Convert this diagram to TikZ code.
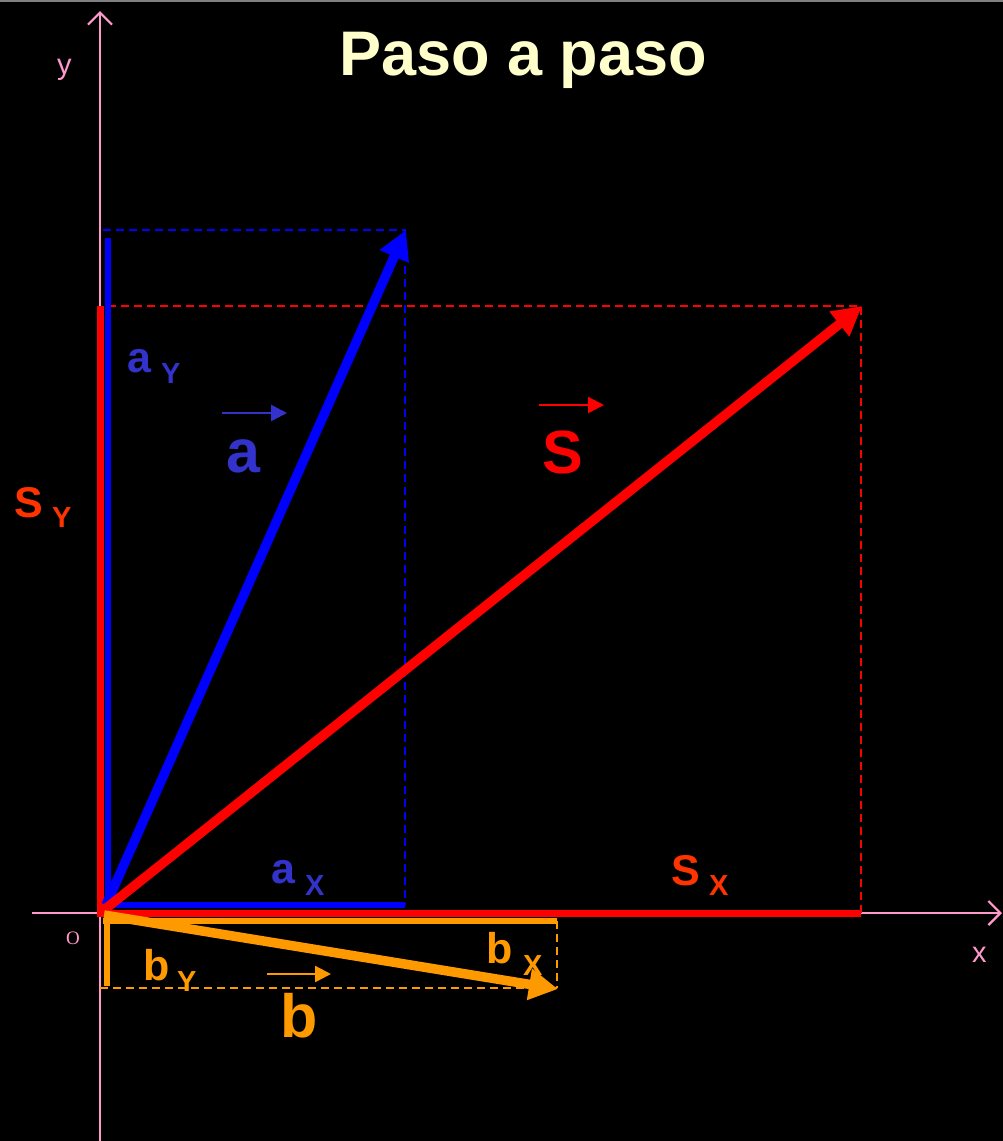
\documentclass[tikz,border=0pt]{standalone}
\usepackage{fontspec}
\setmainfont{Liberation Sans}
\newfontfamily\serifo{Liberation Serif}
\usetikzlibrary{arrows.meta}
\definecolor{pinkax}{RGB}{255,153,204}
\definecolor{ablue}{RGB}{51,51,204}
\definecolor{vblue}{RGB}{0,0,255}
\definecolor{vred}{RGB}{255,0,0}
\definecolor{sred}{RGB}{255,51,0}
\definecolor{borange}{RGB}{255,153,0}
\definecolor{titley}{RGB}{255,255,204}
\begin{document}
\begin{tikzpicture}[x=1pt,y=-1pt,
  axis/.style={pinkax, line width=2.2pt, -{Straight Barb[length=12pt,width=24pt,line width=2.2pt]}},
  comp/.style={line width=6.5pt},
  guide/.style={line width=1.5pt, dash pattern=on 8pt off 5pt},
  vec/.style={line width=9.5pt, -{Triangle[length=29pt,width=30pt]}},
  vmark/.style={line width=2.4pt, -{Triangle[length=16pt,width=16pt]}},
  lbl/.style={inner sep=0pt, anchor=base west, font=\bfseries\fontsize{43}{48}\selectfont},
  sub/.style={inner sep=0pt, anchor=base west, font=\bfseries\fontsize{29}{32}\selectfont},
  big/.style={inner sep=0pt, anchor=base west, font=\bfseries\fontsize{61}{66}\selectfont},
  axl/.style={inner sep=0pt, anchor=base west, text=pinkax, font=\fontsize{29}{32}\selectfont}]
\fill[black] (0,0) rectangle (1003,1141);
\useasboundingbox (0,0) rectangle (1003,1141);
\draw[gray, line width=1.5pt] (0,0.75) -- (1003,0.75);
% title
\node[inner sep=0pt, anchor=base, text=titley, font=\bfseries\fontsize{63}{70}\selectfont] (title) at (523,75) {Paso a paso};
% axes
\coordinate (ybot) at (100,1141);
\coordinate (ytop) at (100,11);
\coordinate (xl) at (32,913);
\coordinate (xr) at (1002,913);
\draw[axis] (ybot) -- (ytop);
\draw[axis] (xl) -- (xr);
\node[axl] (ylab) at (57,74) {y};
\node[axl] (xlab) at (972,962) {x};
\node[inner sep=0pt, anchor=base west, text=pinkax, font=\serifo\fontsize{19}{22}\selectfont] (olab) at (66,944) {O};
% guides
\coordinate (ar) at (405,230);
\coordinate (sr) at (861,306);
\coordinate (br) at (557,988);
\draw[guide, vblue] (103,230) -- (ar) -- (405,905);
\draw[guide, vred] (108,306) -- (sr) -- (861,913);
\draw[guide, borange] (100,988) -- (br);
\draw[guide, borange] (557,921) -- (br);
% components
\coordinate (syt) at (100,306);
\coordinate (syb) at (100,913);
\coordinate (sxr) at (861,913);
\draw[comp, vred, line width=7pt] (syt) -- (syb) -- (sxr);
\coordinate (ayt) at (108,238);
\coordinate (ayb) at (108,907);
\draw[comp, vblue] (ayt) -- (ayb);
\coordinate (axl) at (105,905);
\coordinate (axr) at (405,905);
\draw[comp, vblue] (axl) -- (axr);
\coordinate (bxl) at (103,921);
\coordinate (bxr) at (557,921);
\draw[comp, borange] (bxl) -- (bxr);
\coordinate (byt) at (107,918);
\coordinate (byb) at (107,986);
\draw[comp, borange] (byt) -- (byb);
% vectors
\coordinate (oa) at (106,905);
\coordinate (os) at (104,910);
\coordinate (ob) at (104,915);
\coordinate (atip) at (406,230);
\coordinate (stip) at (862,306);
\coordinate (btip) at (558,989);
\draw[vec, vblue] (oa) -- (atip);
\draw[vec, vred] (os) -- (stip);
\draw[vec, borange] (ob) -- (btip);
% labels a
\node[lbl, text=ablue] (ay1) at (127,372) {a};
\node[sub, text=ablue] (ay2) at (161,383) {Y};
\node[lbl, text=ablue] (ax1) at (271,883) {a};
\node[sub, text=ablue] (ax2) at (305,895) {X};
\node[big, text=ablue] (abig) at (226,472) {a};
\coordinate (am1) at (222,413);
\coordinate (am2) at (287,413);
\draw[vmark, ablue] (am1) -- (am2);
% labels S
\node[lbl, text=sred] (sy1) at (14,517) {S};
\node[sub, text=sred] (sy2) at (52,527) {Y};
\node[lbl, text=sred] (sx1) at (671,885) {S};
\node[sub, text=sred] (sx2) at (709,895) {X};
\node[big, text=vred] (sbig) at (542,473) {S};
\coordinate (sm1) at (539,405);
\coordinate (sm2) at (604,405);
\draw[vmark, vred] (sm1) -- (sm2);
% labels b
\node[lbl, text=borange] (bx1) at (486,963) {b};
\node[sub, text=borange] (bx2) at (523,975) {X};
\node[lbl, text=borange] (by1) at (143,980) {b};
\node[sub, text=borange] (by2) at (177,991) {Y};
\node[big, text=borange] (bbig) at (280,1037) {b};
\coordinate (bm1) at (267,974);
\coordinate (bm2) at (331,974);
\draw[vmark, borange] (bm1) -- (bm2);
\end{tikzpicture}
\end{document}
